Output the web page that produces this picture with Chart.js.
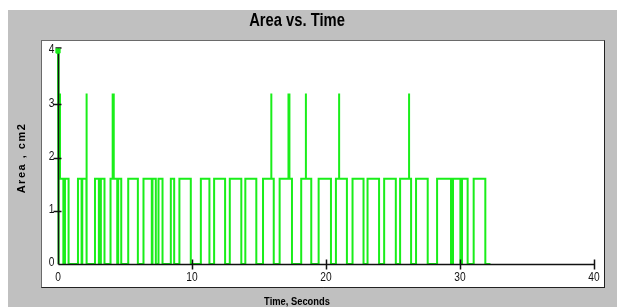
<!DOCTYPE html>
<html>
<head>
<meta charset="utf-8">
<script src="https://cdn.jsdelivr.net/npm/chart.js@4.4.1/dist/chart.umd.min.js"></script>
<style>
  html, body { margin: 0; padding: 0; background: #fff; }
  #wrap { width: 617px; height: 307px; }
</style>
</head>
<body>
<div id="wrap"><canvas id="areaChart" width="617" height="307"></canvas></div>
<script>
// pulse edges (seconds)
const pulseStart = [0.07, 0.52, 1.49, 1.81, 2.76, 3.2, 3.92, 4.49, 5.24, 6.38, 7.05, 7.5, 8.42, 9.06,
  10.66, 11.65, 12.82, 13.98, 15.3, 16.54, 18.15, 19.45, 20.74, 21.98, 23.1, 24.34, 25.53,
  26.72, 28.29, 29.48, 30.15, 31.02];
const pulseEnd = [0.4, 0.79, 1.76, 2.15, 3.05, 3.47, 4.42, 4.72, 5.96, 7.0, 7.3, 7.8, 8.67, 9.91,
  11.3, 12.47, 13.68, 14.8, 16.1, 17.46, 18.9, 20.37, 21.56, 22.8, 23.96, 25.21, 26.35,
  27.59, 29.33, 30.03, 30.57, 31.89];
const spikeTimes = [0.15, 2.12, 4.08, 4.16, 15.92, 17.2, 17.27, 18.5, 20.98, 26.2];
const pulseLevel = 1.6;
const spikeLevel = 3.2;
const endTime = 32.27;
const markerX = [0];
const markerY = [4];

const xTicks = [0, 10, 20, 30, 40];
const yTicks = [0, 1, 2, 3, 4];

// build the step trace
const trace = [{ x: markerX[0], y: markerY[0] }, { x: 0, y: 0 }];
pulseStart.forEach((s, i) => {
  const e = pulseEnd[i];
  trace.push({ x: s, y: 0 }, { x: s, y: pulseLevel });
  spikeTimes.filter(t => t > s && t < e).forEach(t => {
    trace.push({ x: t, y: pulseLevel }, { x: t, y: spikeLevel }, { x: t, y: pulseLevel });
  });
  trace.push({ x: e, y: pulseLevel }, { x: e, y: 0 });
});
trace.push({ x: endTime, y: 0 });

const green = '#1aee1a';
const sans = '"Liberation Sans", Arial, sans-serif';

// squeezed text, the original uses a narrow face
function narrowText(c, txt, x, y, sx) {
  c.save();
  c.translate(x, y);
  c.scale(sx, 1);
  c.fillText(txt, 0, 0);
  c.restore();
}

const frame = {
  id: 'frame',
  beforeDraw(chart) {
    const c = chart.ctx;
    c.save();
    c.fillStyle = '#fff';
    c.fillRect(0, 0, chart.width, chart.height);
    c.fillStyle = '#c0c0c0';
    c.fillRect(8, 10, chart.width - 8, chart.height - 10);
    c.fillStyle = '#fff';
    c.fillRect(42, 41, 562, 246);
    c.strokeStyle = '#6a6a6a';
    c.lineWidth = 1;
    c.strokeRect(41.5, 40.5, 563, 247);
    c.strokeStyle = '#222';
    c.beginPath();
    c.moveTo(41.5, 287.5); c.lineTo(605, 287.5);
    c.moveTo(604.5, 40.5); c.lineTo(604.5, 288);
    c.stroke();

    c.fillStyle = '#000';
    c.textAlign = 'center';
    c.textBaseline = 'middle';
    c.font = 'bold 18px ' + sans;
    narrowText(c, 'Area vs. Time', 297, 21, 0.82);
    c.font = 'bold 11px ' + sans;
    narrowText(c, 'Time, Seconds', 297, 302, 0.85);
    c.translate(22, 158);
    c.rotate(-Math.PI / 2);
    c.font = 'bold 11px ' + sans;
    c.letterSpacing = '1.5px';
    c.fillText('Area , cm2', 0, 0);
    c.restore();
  },
  afterDatasetDraw(chart, args) {
    if (args.index !== 1) return;
    const c = chart.ctx;
    const xs = chart.scales.x, ys = chart.scales.y;
    const x0 = Math.round(xs.getPixelForValue(0)) + 0.5;
    const y0 = Math.round(ys.getPixelForValue(0)) + 0.5;
    const yTop = ys.getPixelForValue(yTicks[yTicks.length - 1]) - 3;
    const xEnd = xs.getPixelForValue(xTicks[xTicks.length - 1]);
    c.save();
    c.strokeStyle = '#111';
    c.lineWidth = 1.5;
    c.beginPath();
    c.moveTo(x0, y0); c.lineTo(x0, yTop);
    c.moveTo(x0 - 3, yTop); c.lineTo(x0 + 3, yTop);
    c.moveTo(x0, y0); c.lineTo(xEnd, y0);
    xTicks.slice(1).forEach(v => {
      const px = Math.round(xs.getPixelForValue(v)) + 0.5;
      c.moveTo(px, y0 - 5); c.lineTo(px, y0 + 5);
    });
    yTicks.slice(1, -1).forEach(v => {
      const py = Math.round(ys.getPixelForValue(v)) + 0.5;
      c.moveTo(x0 - 5, py); c.lineTo(x0 + 3, py);
    });
    c.stroke();

    c.fillStyle = '#111';
    c.font = '12px ' + sans;
    c.textAlign = 'right';
    c.textBaseline = 'middle';
    yTicks.forEach(v => narrowText(c, String(v), x0 - 4, ys.getPixelForValue(v) - 1, 0.85));
    c.textAlign = 'center';
    c.textBaseline = 'top';
    xTicks.forEach(v => narrowText(c, String(v), xs.getPixelForValue(v), y0 + 7, 0.85));
    c.restore();
  }
};

new Chart(document.getElementById('areaChart'), {
  type: 'line',
  data: {
    datasets: [{
      data: markerX.map((x, i) => ({ x, y: markerY[i] })),
      showLine: false,
      pointStyle: 'rect',
      pointRadius: 3,
      pointBackgroundColor: green,
      pointBorderColor: green,
      clip: false
    }, {
      data: trace,
      borderColor: green,
      borderWidth: 2,
      pointRadius: 0,
      tension: 0,
      fill: false,
      clip: false
    }]
  },
  options: {
    responsive: false,
    animation: false,
    events: [],
    layout: { padding: { left: 58, right: 23, top: 51, bottom: 43 } },
    scales: {
      x: { type: 'linear', min: 0, max: 40, display: false },
      y: { min: 0, max: 4, display: false }
    },
    plugins: { legend: { display: false }, tooltip: { enabled: false } }
  },
  plugins: [frame]
});
</script>
</body>
</html>
